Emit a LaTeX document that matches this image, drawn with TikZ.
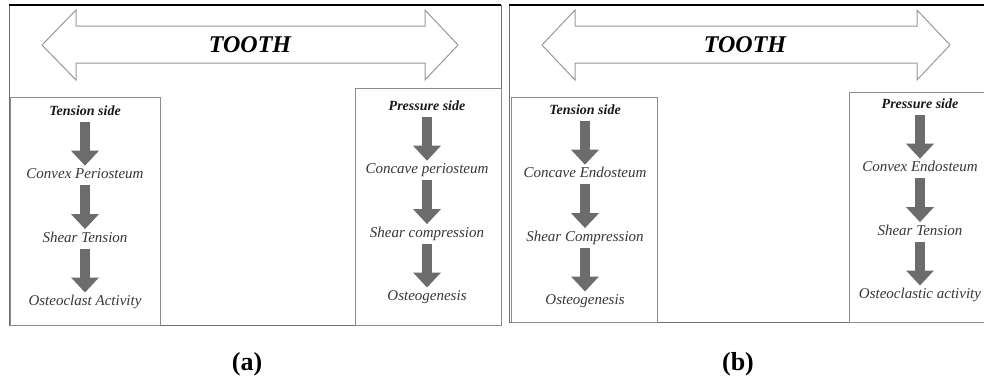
\documentclass[tikz,border=0pt]{standalone}
\usepackage{fontspec}
\usepackage{tikz}
\usetikzlibrary{positioning,arrows.meta}
\newfontfamily\capfont{Liberation Serif}
\definecolor{framegray}{RGB}{110,110,110}
\definecolor{boxgray}{RGB}{140,140,140}
\definecolor{flowgray}{RGB}{108,108,108}
\definecolor{textgray}{RGB}{55,55,55}
\tikzset{panel/.style={draw=framegray, line width=1pt}}
\tikzset{topedge/.style={draw=black, line width=2.5pt}}
\tikzset{sidebox/.style={draw=boxgray, line width=0.9pt, fill=white}}
\tikzset{toothbar/.style={draw=gray!80, line width=1pt, fill=white, line join=miter}}
\tikzset{toothlabel/.style={font=\capfont\fontsize{24}{26}\selectfont\bfseries\itshape, text=black, inner sep=1pt}}
\tikzset{headnode/.style={font=\capfont\fontsize{14}{16}\selectfont\bfseries\itshape, text=black!90, inner sep=1pt, text height=10pt, text depth=3pt}}
\tikzset{stepnode/.style={font=\capfont\fontsize{15}{17}\selectfont\itshape, text=textgray, inner sep=1pt, text height=10pt, text depth=3pt}}
\tikzset{flow/.style={draw=flowgray, line width=10pt, -{Triangle[width=27pt,length=15pt]}, shorten <=2pt, shorten >=2pt}}
\tikzset{caption/.style={font=\capfont\fontsize{26}{28}\selectfont\bfseries, inner sep=1pt}}

\begin{document}
\begin{tikzpicture}[x=1pt,y=-1pt]
\useasboundingbox (0,0) rectangle (984,389);
\clip (0,0) rectangle (984,389);
%Frames
\draw[panel] (9,5) rectangle (501,325);
\draw[panel] (509,5) rectangle (992,322);
\draw[topedge] (9,5) -- (501,5);
\draw[topedge] (509,5) -- (992,5);
%Side boxes
\draw[sidebox] (10,97) rectangle (160,325);
\draw[sidebox] (355,88) rectangle (501,325);
\draw[sidebox] (511,97) rectangle (657,322);
\draw[sidebox] (849,92) rectangle (992,322);
%Tooth arrows
\draw[toothbar] (42,45) -- (76,10) -- (76,26) -- (425,26) -- (425,10) -- (458,45)
  -- (425,80) -- (425,63) -- (76,63) -- (76,80) -- cycle;
\draw[toothbar] (542,45) -- (575,10) -- (575,26) -- (917,26) -- (917,10) -- (950,45)
  -- (917,80) -- (917,63) -- (575,63) -- (575,80) -- cycle;
\node[toothlabel] (tootha) at (250,45) {TOOTH};
\node[toothlabel] (toothb) at (745,45) {TOOTH};
%Nodes (a)
\node[headnode] (tena0) at (85,112) {Tension side};
\node[stepnode] (tena1) [below=48pt of tena0] {Convex Periosteum};
\node[stepnode] (tena2) [below=48pt of tena1] {Shear Tension};
\node[stepnode] (tena3) [below=48pt of tena2] {Osteoclast Activity};
\node[headnode] (prea0) at (427,107) {Pressure side};
\node[stepnode] (prea1) [below=48pt of prea0] {Concave periosteum};
\node[stepnode] (prea2) [below=48pt of prea1] {Shear compression};
\node[stepnode] (prea3) [below=48pt of prea2] {Osteogenesis};
%Nodes (b)
\node[headnode] (tenb0) at (585,111) {Tension side};
\node[stepnode] (tenb1) [below=48pt of tenb0] {Concave Endosteum};
\node[stepnode] (tenb2) [below=48pt of tenb1] {Shear Compression};
\node[stepnode] (tenb3) [below=48pt of tenb2] {Osteogenesis};
\node[headnode] (preb0) at (920,105) {Pressure side};
\node[stepnode] (preb1) [below=48pt of preb0] {Convex Endosteum};
\node[stepnode] (preb2) [below=48pt of preb1] {Shear Tension};
\node[stepnode] (preb3) [below=48pt of preb2] {Osteoclastic activity};
%Captions
\node[caption] (capa) at (247,364) {(a)};
\node[caption] (capb) at (738,364) {(b)};
%Lines
\foreach \col in {tena,prea,tenb,preb}
  \foreach \i/\j in {0/1,1/2,2/3}
    \draw[flow] (\col\i.south) -- (\col\j.north);
\end{tikzpicture}
\end{document}
